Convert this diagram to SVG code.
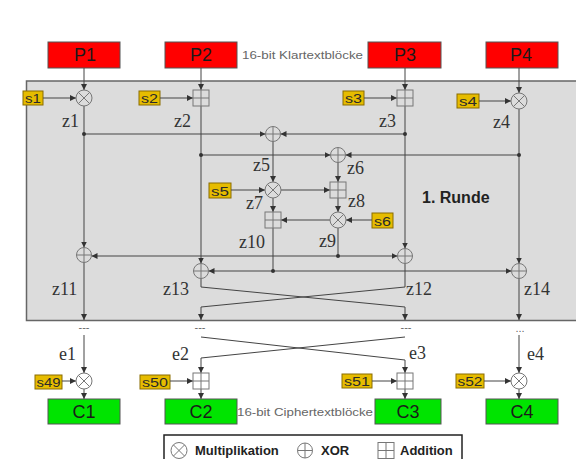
<svg xmlns="http://www.w3.org/2000/svg" width="576" height="459" viewBox="0 0 576 459">
<style>
.blk{stroke:#555;stroke-width:1}
.p{fill:#ff0000}
.c{fill:#00e400}
.key{fill:#e6bc00;stroke:#8a6d00;stroke-width:1}
.kt{font-family:"Liberation Sans",Arial,sans-serif;font-size:12px;fill:#2a2a2a}
.bt{font-family:"Liberation Sans",Arial,sans-serif;font-size:18px;fill:#1a1a1a;text-anchor:middle}
.z{font-family:"Liberation Serif","Times New Roman",serif;font-size:18px;fill:#333}
.sm{font-family:"Liberation Sans",Arial,sans-serif;font-size:11px;fill:#666}
.op{fill:none;stroke:#777;stroke-width:1}
.w{fill:none;stroke:#444;stroke-width:1}
.dot{fill:#333}
.lg{font-family:"Liberation Sans",Arial,sans-serif;font-size:13px;font-weight:bold;fill:#222}
</style>
<defs>
<marker id="ah" markerUnits="userSpaceOnUse" markerWidth="6" markerHeight="6" refX="6" refY="3" orient="auto">
<path d="M0,0 L6,3 L0,6 z" fill="#333"/>
</marker>
<g id="mul"><circle r="8" class="op"/><path d="M-5.6,-5.6 L5.6,5.6 M-5.6,5.6 L5.6,-5.6" class="op"/></g>
<g id="xor"><circle r="7.5" class="op"/><path d="M-7.5,0 H7.5 M0,-7.5 V7.5" class="op"/></g>
<g id="add"><rect x="-8" y="-8" width="16" height="16" class="op"/><path d="M-8,0 H8 M0,-8 V8" class="op"/></g>
</defs>
<rect width="576" height="459" fill="#ffffff"/>
<rect x="26.5" y="81" width="560" height="239.5" fill="#dcdcdc" stroke="#666" stroke-width="1.5"/>

<g id="plaintext">
<g id="P1"><rect x="48" y="42" width="72" height="26" class="p blk"/><text x="85" y="61" class="bt">P1</text></g>
<g id="P2"><rect x="165" y="42" width="72" height="26" class="p blk"/><text x="201" y="61" class="bt">P2</text></g>
<g id="P3"><rect x="368" y="42" width="73" height="26" class="p blk"/><text x="405" y="61" class="bt">P3</text></g>
<g id="P4"><rect x="486" y="42" width="72" height="26" class="p blk"/><text x="521" y="61" class="bt">P4</text></g>
<text x="242" y="59" class="sm" textLength="121" lengthAdjust="spacingAndGlyphs">16-bit Klartextblöcke</text>
</g>

<g id="keys">
<g id="s1"><rect x="23" y="91" width="20" height="14" class="key"/><text x="25" y="103" class="kt" textLength="16" lengthAdjust="spacingAndGlyphs">s1</text></g>
<g id="s2"><rect x="139" y="91" width="21" height="14" class="key"/><text x="141" y="103" class="kt" textLength="17" lengthAdjust="spacingAndGlyphs">s2</text></g>
<g id="s3"><rect x="343" y="91" width="21" height="14" class="key"/><text x="345" y="103" class="kt" textLength="17" lengthAdjust="spacingAndGlyphs">s3</text></g>
<g id="s4"><rect x="457" y="94" width="22" height="14" class="key"/><text x="459" y="106" class="kt" textLength="18" lengthAdjust="spacingAndGlyphs">s4</text></g>
<g id="s5"><rect x="209" y="183" width="22" height="15" class="key"/><text x="211" y="195.5" class="kt" textLength="18" lengthAdjust="spacingAndGlyphs">s5</text></g>
<g id="s6"><rect x="372" y="213" width="21" height="15" class="key"/><text x="374" y="225.5" class="kt" textLength="17" lengthAdjust="spacingAndGlyphs">s6</text></g>
<g id="s49"><rect x="35" y="375" width="27" height="14" class="key"/><text x="36.5" y="387" class="kt" textLength="24" lengthAdjust="spacingAndGlyphs">s49</text></g>
<g id="s50"><rect x="140" y="375" width="30" height="14" class="key"/><text x="142" y="387" class="kt" textLength="26" lengthAdjust="spacingAndGlyphs">s50</text></g>
<g id="s51"><rect x="342" y="374" width="30" height="14" class="key"/><text x="344" y="386" class="kt" textLength="26" lengthAdjust="spacingAndGlyphs">s51</text></g>
<g id="s52"><rect x="456" y="374" width="28" height="14" class="key"/><text x="457.5" y="386" class="kt" textLength="25" lengthAdjust="spacingAndGlyphs">s52</text></g>
</g>

<g id="connectors">
<path class="w" marker-end="url(#ah)" d="M84,68 V90"/>
<path class="w" marker-end="url(#ah)" d="M43,98 H76"/>
<path class="w" marker-end="url(#ah)" d="M201,68 V90"/>
<path class="w" marker-end="url(#ah)" d="M160,98 H193"/>
<path class="w" marker-end="url(#ah)" d="M405,68 V90"/>
<path class="w" marker-end="url(#ah)" d="M364,98 H397"/>
<path class="w" marker-end="url(#ah)" d="M519,68 V93"/>
<path class="w" marker-end="url(#ah)" d="M479,101 H511"/>
<path class="w" marker-end="url(#ah)" d="M84,106 V247.5"/>
<path class="w" marker-end="url(#ah)" d="M84,134 H265.5"/>
<path class="w" marker-end="url(#ah)" d="M405,106 V248.5"/>
<path class="w" marker-end="url(#ah)" d="M405,134 H280.5"/>
<path class="w" marker-end="url(#ah)" d="M201,106 V263.5"/>
<path class="w" marker-end="url(#ah)" d="M201,155 H330.5"/>
<path class="w" marker-end="url(#ah)" d="M519,109 V263.5"/>
<path class="w" marker-end="url(#ah)" d="M519,155 H345.5"/>
<path class="w" marker-end="url(#ah)" d="M273,141.5 V182"/>
<path class="w" marker-end="url(#ah)" d="M231,190 H265"/>
<path class="w" marker-end="url(#ah)" d="M281,190 H330"/>
<path class="w" marker-end="url(#ah)" d="M338,162.5 V182"/>
<path class="w" marker-end="url(#ah)" d="M338,198 V212"/>
<path class="w" marker-end="url(#ah)" d="M372,220 H346"/>
<path class="w" marker-end="url(#ah)" d="M330,220 H281"/>
<path class="w" marker-end="url(#ah)" d="M273,198 V212"/>
<path class="w" d="M273,228 V271"/>
<path class="w" marker-end="url(#ah)" d="M273,271 H208.5"/>
<path class="w" marker-end="url(#ah)" d="M273,271 H511.5"/>
<path class="w" d="M338,228 V256"/>
<path class="w" marker-end="url(#ah)" d="M338,256 H91.5"/>
<path class="w" marker-end="url(#ah)" d="M338,256 H397.5"/>
<path class="w" marker-end="url(#ah)" d="M84,262.5 V320"/>
<path class="w" marker-end="url(#ah)" d="M519,278.5 V320"/>
<path class="w" marker-end="url(#ah)" d="M201,278.5 V287 L405,307 V320"/>
<path class="w" marker-end="url(#ah)" d="M405,263.5 V287 L201,307 V320"/>
<path class="w" marker-end="url(#ah)" d="M84,335 V373"/>
<path class="w" marker-end="url(#ah)" d="M519,335 V373"/>
<path class="w" marker-end="url(#ah)" d="M201,337 L405,360 V373"/>
<path class="w" marker-end="url(#ah)" d="M405,337 L201,358 V373"/>
<path class="w" marker-end="url(#ah)" d="M62,381 H76"/>
<path class="w" marker-end="url(#ah)" d="M170,381 H193"/>
<path class="w" marker-end="url(#ah)" d="M372,381 H397"/>
<path class="w" marker-end="url(#ah)" d="M484,381 H511"/>
<path class="w" marker-end="url(#ah)" d="M84,389 V399"/>
<path class="w" marker-end="url(#ah)" d="M201,389 V399"/>
<path class="w" marker-end="url(#ah)" d="M405,389 V399"/>
<path class="w" marker-end="url(#ah)" d="M519,389 V399"/>
<circle cx="84" cy="134" r="2" class="dot"/>
<circle cx="405" cy="134" r="2" class="dot"/>
<circle cx="201" cy="155" r="2" class="dot"/>
<circle cx="519" cy="155" r="2" class="dot"/>
<circle cx="273" cy="271" r="2" class="dot"/>
<circle cx="338" cy="256" r="2" class="dot"/>
</g>

<g id="operators">
<use href="#mul" x="84" y="98"/>
<use href="#add" x="201" y="98"/>
<use href="#add" x="405" y="98"/>
<use href="#mul" x="519" y="101"/>
<use href="#xor" x="273" y="134"/>
<use href="#xor" x="338" y="155"/>
<use href="#mul" x="273" y="190"/>
<use href="#add" x="338" y="190"/>
<use href="#mul" x="338" y="220"/>
<use href="#add" x="273" y="220"/>
<use href="#xor" x="84" y="255"/>
<use href="#xor" x="405" y="256"/>
<use href="#xor" x="201" y="271"/>
<use href="#xor" x="519" y="271"/>
<use href="#mul" x="84" y="381"/>
<use href="#add" x="201" y="381"/>
<use href="#add" x="405" y="381"/>
<use href="#mul" x="519" y="381"/>
</g>

<g id="labels">
<text x="62" y="127" class="z">z1</text>
<text x="174" y="127" class="z">z2</text>
<text x="379" y="127" class="z">z3</text>
<text x="493" y="128" class="z">z4</text>
<text x="253" y="171" class="z">z5</text>
<text x="347" y="174" class="z">z6</text>
<text x="246" y="209" class="z">z7</text>
<text x="348" y="207" class="z">z8</text>
<text x="319" y="247" class="z">z9</text>
<text x="239" y="248" class="z">z10</text>
<text x="52" y="295" class="z">z11</text>
<text x="163" y="295" class="z">z13</text>
<text x="406" y="295" class="z">z12</text>
<text x="524" y="295" class="z">z14</text>
<text x="59" y="360" class="z">e1</text>
<text x="172" y="360" class="z">e2</text>
<text x="409" y="359" class="z">e3</text>
<text x="527" y="360" class="z">e4</text>
<text x="422" y="203" font-family="Liberation Sans, Arial, sans-serif" font-size="16" font-weight="bold" fill="#222">1. Runde</text>
<text x="84" y="331" class="sm" font-size="9" text-anchor="middle">---</text>
<text x="200" y="331" class="sm" font-size="9" text-anchor="middle">---</text>
<text x="406" y="331" class="sm" font-size="9" text-anchor="middle">---</text>
<text x="520" y="332" class="sm" font-size="10" fill="#333" text-anchor="middle">...</text>
</g>

<g id="ciphertext">
<g id="C1"><rect x="48" y="399" width="72" height="25" class="c blk"/><text x="84" y="418" class="bt">C1</text></g>
<g id="C2"><rect x="165" y="399" width="72" height="25" class="c blk"/><text x="201" y="418" class="bt">C2</text></g>
<g id="C3"><rect x="375" y="399" width="66" height="25" class="c blk"/><text x="408" y="418" class="bt">C3</text></g>
<g id="C4"><rect x="486" y="399" width="72" height="25" class="c blk"/><text x="522" y="418" class="bt">C4</text></g>
<text x="237" y="416" class="sm" textLength="136" lengthAdjust="spacingAndGlyphs">16-bit Ciphertextblöcke</text>
</g>

<g id="legend">
<rect x="164" y="435" width="298" height="32" fill="#fff" stroke="#222" stroke-width="1.5"/>
<use href="#mul" x="179" y="450.5"/>
<text x="195" y="455" class="lg">Multiplikation</text>
<use href="#xor" x="305" y="450.5"/>
<text x="321" y="455" class="lg">XOR</text>
<use href="#add" x="386" y="450.5"/>
<text x="400" y="455" class="lg">Addition</text>
</g>
</svg>
